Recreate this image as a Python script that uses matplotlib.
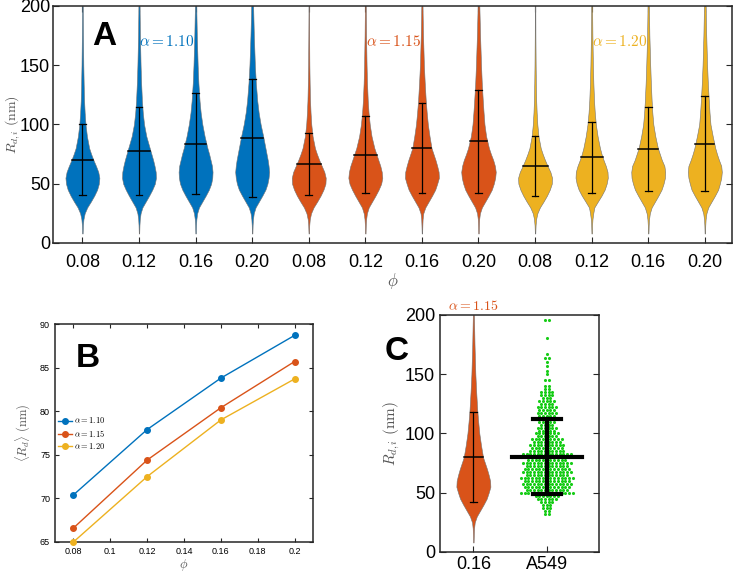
import numpy as np
import matplotlib
matplotlib.use('Agg')
from matplotlib import pyplot as plt

plt.rcParams['font.family'] = ['Liberation Sans', 'DejaVu Sans']
plt.rcParams['mathtext.fontset'] = 'cm'

# --- data ---
phi = [0.08, 0.12, 0.16, 0.20]
phi_labels = ['0.08', '0.12', '0.16', '0.20']
alpha_labels = [r'$\alpha = 1.10$', r'$\alpha = 1.15$', r'$\alpha = 1.20$']
colors = ['#0072BD', '#D95319', '#EDB120']

# mean <R_d> (nm), rows = alpha 1.10 / 1.15 / 1.20
mean_rd = [
    [70.4, 77.9, 83.8, 88.7],
    [66.6, 74.4, 80.4, 85.7],
    [65.0, 72.5, 79.0, 83.7],
]
# half length of the error bars (nm)
std_rd = [
    [30.0, 37.0, 42.5, 50.0],
    [26.5, 32.5, 38.0, 43.3],
    [25.0, 30.0, 35.5, 40.0],
]

# violin outline: half width (x units) at these R values
violin_y = [8, 15, 20, 25, 30, 35, 40, 45, 50, 55, 60, 65, 70, 75, 80, 90, 100, 110, 120, 135, 150, 175, 200]
violin_w = [
    # alpha = 1.10
    [0.004, 0.009, 0.018, 0.04, 0.085, 0.15, 0.21, 0.26, 0.29, 0.30, 0.28, 0.24, 0.195, 0.155, 0.12, 0.08, 0.055, 0.04, 0.03, 0.022, 0.016, 0.01, 0.006],
    [0.004, 0.008, 0.014, 0.028, 0.06, 0.12, 0.18, 0.235, 0.28, 0.30, 0.295, 0.275, 0.25, 0.22, 0.19, 0.13, 0.09, 0.067, 0.052, 0.038, 0.028, 0.017, 0.01],
    [0.004, 0.008, 0.014, 0.028, 0.06, 0.12, 0.18, 0.235, 0.275, 0.295, 0.30, 0.29, 0.265, 0.24, 0.21, 0.16, 0.12, 0.09, 0.07, 0.05, 0.037, 0.022, 0.012],
    [0.004, 0.008, 0.014, 0.028, 0.06, 0.12, 0.18, 0.235, 0.27, 0.29, 0.30, 0.29, 0.275, 0.255, 0.235, 0.195, 0.15, 0.115, 0.09, 0.065, 0.048, 0.03, 0.017],
    # alpha = 1.15
    [0.004, 0.009, 0.018, 0.04, 0.085, 0.15, 0.21, 0.26, 0.295, 0.30, 0.275, 0.23, 0.185, 0.145, 0.11, 0.068, 0.045, 0.032, 0.023, 0.016, 0.011, 0.007, 0.004],
    [0.004, 0.008, 0.014, 0.028, 0.06, 0.12, 0.18, 0.235, 0.28, 0.30, 0.29, 0.265, 0.23, 0.195, 0.16, 0.11, 0.078, 0.057, 0.043, 0.03, 0.022, 0.013, 0.008],
    [0.004, 0.008, 0.012, 0.024, 0.06, 0.12, 0.18, 0.235, 0.27, 0.30, 0.295, 0.27, 0.24, 0.205, 0.17, 0.135, 0.105, 0.085, 0.068, 0.05, 0.035, 0.02, 0.01],
    [0.004, 0.008, 0.012, 0.025, 0.06, 0.12, 0.18, 0.235, 0.27, 0.295, 0.305, 0.29, 0.26, 0.22, 0.185, 0.135, 0.106, 0.09, 0.076, 0.058, 0.045, 0.028, 0.015],
    # alpha = 1.20
    [0.004, 0.009, 0.018, 0.04, 0.085, 0.15, 0.21, 0.26, 0.295, 0.30, 0.27, 0.22, 0.175, 0.135, 0.10, 0.06, 0.04, 0.028, 0.02, 0.014, 0.01, 0.006, 0.004],
    [0.004, 0.008, 0.014, 0.028, 0.047, 0.11, 0.175, 0.23, 0.265, 0.285, 0.28, 0.25, 0.21, 0.175, 0.147, 0.105, 0.074, 0.055, 0.042, 0.03, 0.022, 0.013, 0.008],
    [0.004, 0.008, 0.014, 0.028, 0.06, 0.12, 0.18, 0.235, 0.27, 0.295, 0.30, 0.285, 0.24, 0.205, 0.17, 0.125, 0.09, 0.072, 0.06, 0.046, 0.035, 0.02, 0.012],
    [0.004, 0.008, 0.014, 0.028, 0.06, 0.12, 0.18, 0.235, 0.265, 0.29, 0.30, 0.29, 0.25, 0.215, 0.185, 0.14, 0.10, 0.083, 0.07, 0.053, 0.04, 0.025, 0.015],
]

# A549 cells: rows of the swarm (R in nm) and number of cells in each row
a549_rows = [32, 35, 37.5, 40, 42.5, 45, 47.5, 50, 52.5, 55, 57.5, 60, 62.5, 65, 67.5, 70,
             72.5, 75, 77.5, 80, 82.5, 85, 87.5, 90, 92.5, 95, 97.5, 100, 102.5, 105, 107.5,
             110, 112.5, 115, 117.5, 120, 122.5, 125, 127.5, 130, 132.5, 135, 137.5, 140,
             145, 150, 153, 157, 160, 164, 167, 181, 196]
a549_counts = [2, 2, 3, 3, 4, 6, 7, 15, 12, 13, 14, 13, 15, 12, 14, 13,
               12, 14, 11, 15, 14, 10, 9, 10, 8, 9, 6, 7, 5, 6, 4,
               5, 4, 5, 6, 5, 6, 4, 5, 3, 4, 4, 2, 2,
               2, 1, 1, 1, 1, 2, 1, 1, 2]
a549_mean = 80.5
a549_std = 31.5

LABEL_GRAY = '#555555'
SPINE = '#262626'


def style_axes(ax, size, ticklen):
    ax.tick_params(direction='in', top=True, right=True, labelsize=size,
                   length=ticklen, width=0.8, color=SPINE)
    for s in ax.spines.values():
        s.set_linewidth(1.1)
        s.set_color(SPINE)


def draw_violin(ax, x, widths, color, mean, std, scale=1.0, cap=0.06):
    w = np.array(widths) * scale
    ax.fill_betweenx(violin_y, x - w, x + w, facecolor=color, edgecolor='0.45',
                     linewidth=0.4, zorder=2)
    half = np.interp(mean, violin_y, w)
    ax.plot([x - half, x + half], [mean, mean], color='k', lw=1.1, zorder=3)
    ax.plot([x, x], [mean - std, mean + std], color='k', lw=0.9, zorder=3)
    for yy in (mean - std, mean + std):
        ax.plot([x - cap, x + cap], [yy, yy], color='k', lw=0.9, zorder=3)


fig = plt.figure(figsize=(7.35, 5.75), dpi=100)

# ---------------- panel A ----------------
axA = fig.add_axes([0.0721, 0.5774, 0.9238, 0.4122])
k = 0
for i in range(3):
    for j in range(4):
        draw_violin(axA, k + 1, violin_w[k], colors[i], mean_rd[i][j], std_rd[i][j])
        k += 1
    axA.text(4 * i + 2.5, 170, alpha_labels[i], color=colors[i], fontsize=11,
             ha='center', va='center')
axA.set_xlim(0.48, 12.48)
axA.set_ylim(0, 200)
axA.set_xticks(range(1, 13))
axA.set_xticklabels(phi_labels * 3)
axA.set_yticks([0, 50, 100, 150, 200])
style_axes(axA, 13, 4.5)
axA.tick_params(axis='x', pad=8)
axA.tick_params(axis='y', pad=2)
axA.set_ylabel(r'$R_{d,i}\ (\mathrm{nm})$', fontsize=10, color=LABEL_GRAY)
axA.yaxis.set_label_coords(-0.046, 0.5)
axA.set_xlabel(r'$\phi$', fontsize=12, color=LABEL_GRAY, labelpad=0)
axA.text(0.075, 0.873, 'A', transform=axA.transAxes, fontsize=24, fontweight='bold',
         ha='center', va='center')

# ---------------- panel B ----------------
axB = fig.add_axes([0.0748, 0.0574, 0.351, 0.379])
for i in range(3):
    axB.plot(phi, mean_rd[i], '-o', color=colors[i], lw=1.0, markersize=4,
             label=alpha_labels[i], clip_on=False, zorder=3)
axB.set_xlim(0.07, 0.21)
axB.set_ylim(65, 90)
axB.set_xticks([0.08, 0.1, 0.12, 0.14, 0.16, 0.18, 0.2])
axB.set_xticklabels(['0.08', '0.1', '0.12', '0.14', '0.16', '0.18', '0.2'])
axB.set_yticks([65, 70, 75, 80, 85, 90])
style_axes(axB, 6.5, 3)
axB.set_ylabel(r'$\langle R_d \rangle\ (\mathrm{nm})$', fontsize=9, color=LABEL_GRAY, labelpad=5)
axB.set_xlabel(r'$\phi$', fontsize=9, color=LABEL_GRAY, labelpad=1)
axB.legend(loc='center left', bbox_to_anchor=(-0.01, 0.5), frameon=False, fontsize=6,
           handlelength=1.6, handletextpad=0.3, labelspacing=0.25, borderpad=0.2)
axB.text(0.128, 0.844, 'B', transform=axB.transAxes, fontsize=24, fontweight='bold',
         ha='center', va='center')

# ---------------- panel C ----------------
axC = fig.add_axes([0.5986, 0.04, 0.2163, 0.4122])
draw_violin(axC, 1, violin_w[6], colors[1], mean_rd[1][2], std_rd[1][2],
            scale=0.772, cap=0.045)
for yy, n in zip(a549_rows, a549_counts):
    xs = 2 + (np.arange(n) - (n - 1) / 2) * 0.05
    axC.scatter(xs, [yy] * n, s=5, color='#17cc17', linewidths=0, zorder=2)
axC.plot([2, 2], [a549_mean - a549_std, a549_mean + a549_std], color='k', lw=3, zorder=4)
for yy in (a549_mean - a549_std, a549_mean + a549_std):
    axC.plot([1.81, 2.19], [yy, yy], color='k', lw=3, zorder=4)
axC.plot([1.52, 2.48], [a549_mean, a549_mean], color='k', lw=3, zorder=4)
axC.set_xlim(0.545, 2.71)
axC.set_ylim(0, 200)
axC.set_xticks([1, 2])
axC.set_xticklabels(['0.16', 'A549'])
axC.set_yticks([0, 50, 100, 150, 200])
style_axes(axC, 13, 4.5)
axC.tick_params(axis='x', top=False, pad=3)
axC.set_ylabel(r'$R_{d,i}\ (\mathrm{nm})$', fontsize=11, color=LABEL_GRAY, labelpad=2)
axC.text(1, 1.01, alpha_labels[1], color=colors[1], fontsize=10, ha='center', va='bottom',
         transform=axC.get_xaxis_transform())
axC.text(-0.27, 0.848, 'C', transform=axC.transAxes, fontsize=24, fontweight='bold',
         ha='center', va='center')

fig.savefig('out.png', dpi=100)
